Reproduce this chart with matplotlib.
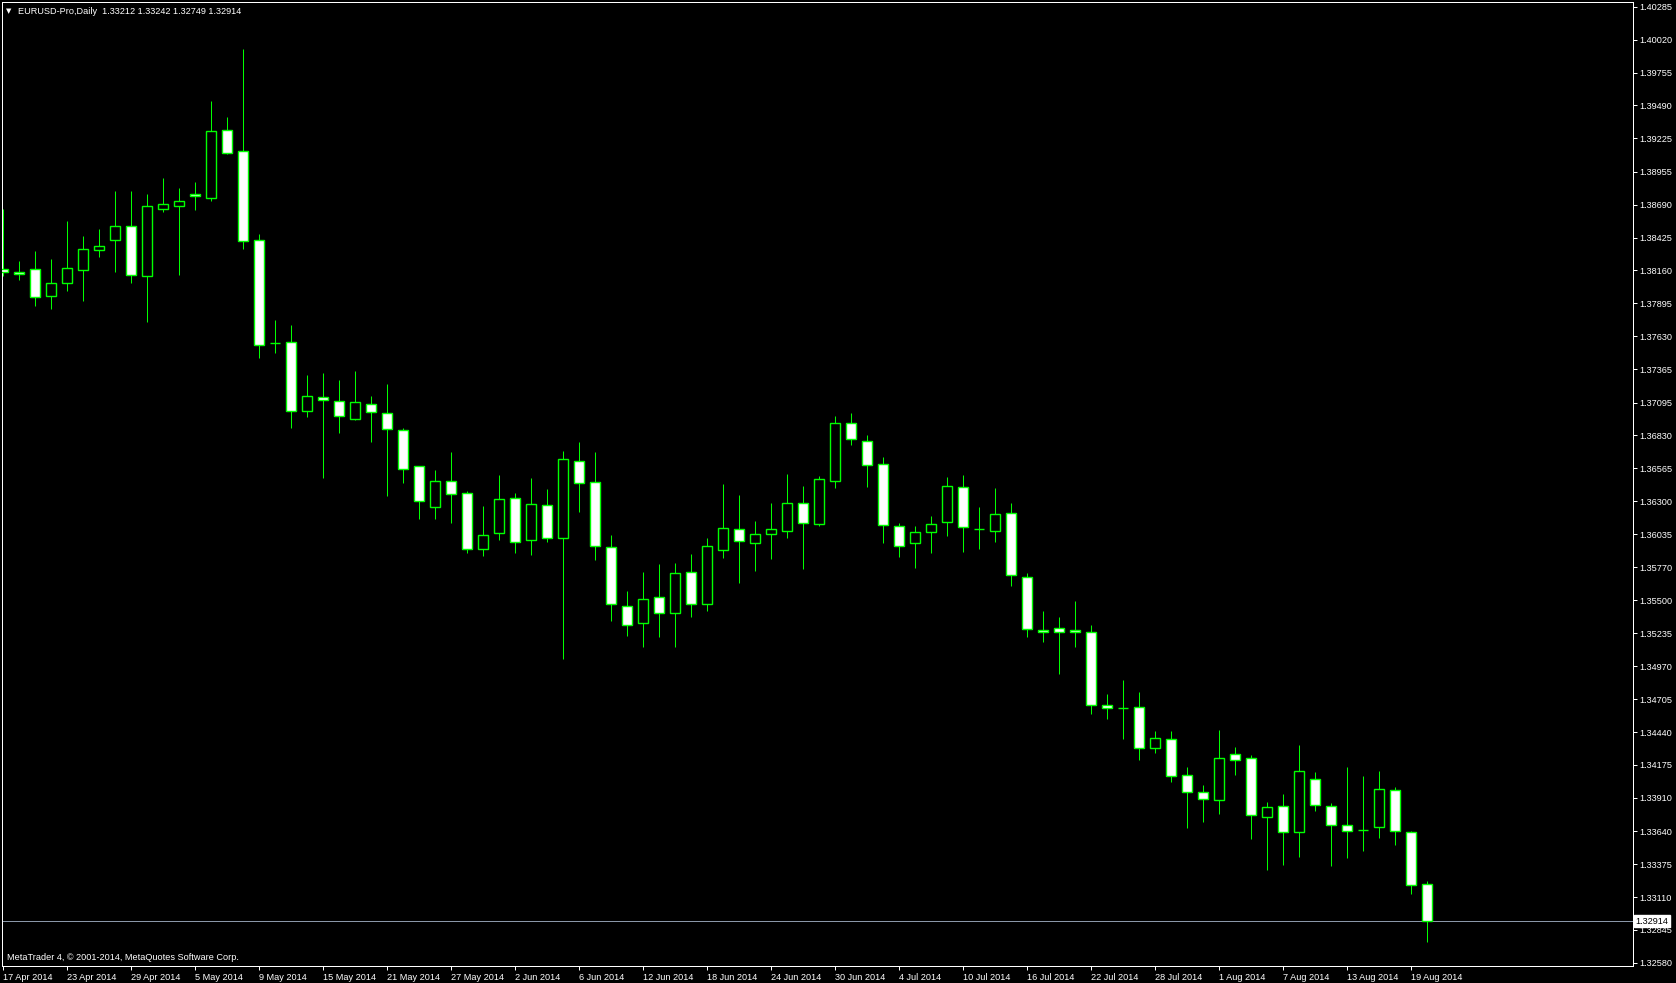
import matplotlib
matplotlib.use("Agg")
import matplotlib.pyplot as plt
from matplotlib.patches import Rectangle

# daily bars, 17 Apr 2014 .. 20 Aug 2014
opens = [1.38169, 1.38145, 1.38169, 1.37952, 1.38057, 1.38161, 1.38323, 1.38408, 1.38516, 1.38118,
         1.38658, 1.38677, 1.38774, 1.38747, 1.39290, 1.39121, 1.38403, 1.37578, 1.37581, 1.37025,
         1.37138, 1.37106, 1.36960, 1.37081, 1.37009, 1.36872, 1.36582, 1.36251, 1.36461, 1.36364,
         1.35913, 1.36042, 1.36324, 1.35985, 1.36267, 1.36001, 1.36622, 1.36453, 1.35929, 1.35453,
         1.35316, 1.35526, 1.35397, 1.35727, 1.35469, 1.35905, 1.36074, 1.35961, 1.36034, 1.36058,
         1.36283, 1.36114, 1.36461, 1.36928, 1.36783, 1.36598, 1.36098, 1.35961, 1.36050, 1.36130,
         1.36412, 1.36079, 1.36058, 1.36203, 1.35687, 1.35260, 1.35276, 1.35260, 1.35244, 1.34655,
         1.34634, 1.34639, 1.34314, 1.34381, 1.34091, 1.33954, 1.33890, 1.34260, 1.34231, 1.33753,
         1.33841, 1.33637, 1.34059, 1.33841, 1.33688, 1.33648, 1.33672, 1.33970, 1.33636, 1.33212]
highs = [1.38656, 1.38236, 1.38317, 1.38252, 1.38559, 1.38438, 1.38494, 1.38801, 1.38801, 1.38776,
         1.38905, 1.38825, 1.38873, 1.39526, 1.39397, 1.39945, 1.38454, 1.37761, 1.37720, 1.37317,
         1.37334, 1.37277, 1.37350, 1.37148, 1.37245, 1.36888, 1.36582, 1.36552, 1.36697, 1.36383,
         1.36262, 1.36512, 1.36366, 1.36487, 1.36399, 1.36705, 1.36777, 1.36697, 1.36028, 1.35577,
         1.35730, 1.35794, 1.35802, 1.35875, 1.36001, 1.36439, 1.36350, 1.36141, 1.36286, 1.36520,
         1.36423, 1.36503, 1.36987, 1.37011, 1.36834, 1.36657, 1.36125, 1.36100, 1.36181, 1.36495,
         1.36509, 1.36254, 1.36407, 1.36286, 1.35722, 1.35415, 1.35367, 1.35496, 1.35300, 1.34744,
         1.34859, 1.34762, 1.34451, 1.34451, 1.34160, 1.34013, 1.34459, 1.34322, 1.34257, 1.33876,
         1.33940, 1.34335, 1.34118, 1.33868, 1.34158, 1.34085, 1.34126, 1.33997, 1.33640, 1.33242]
lows = [1.38118, 1.38086, 1.37876, 1.37852, 1.37997, 1.37916, 1.38271, 1.38150, 1.38061, 1.37747,
        1.38634, 1.38126, 1.38650, 1.38722, 1.39101, 1.38333, 1.37457, 1.37497, 1.36890, 1.36979,
        1.36490, 1.36852, 1.36957, 1.36780, 1.36345, 1.36449, 1.36159, 1.36159, 1.36127, 1.35885,
        1.35861, 1.35990, 1.35885, 1.35869, 1.35969, 1.35031, 1.36216, 1.35829, 1.35337, 1.35216,
        1.35128, 1.35208, 1.35128, 1.35369, 1.35418, 1.35845, 1.35643, 1.35740, 1.35837, 1.36006,
        1.35756, 1.36103, 1.36409, 1.36756, 1.36417, 1.35966, 1.35853, 1.35764, 1.35885, 1.36022,
        1.35893, 1.35918, 1.35974, 1.35619, 1.35208, 1.35168, 1.34910, 1.35128, 1.34588, 1.34547,
        1.34386, 1.34217, 1.34273, 1.34040, 1.33669, 1.33717, 1.33782, 1.34096, 1.33580, 1.33330,
        1.33371, 1.33435, 1.33806, 1.33362, 1.33427, 1.33483, 1.33588, 1.33532, 1.33137, 1.32749]
closes = [1.38145, 1.38129, 1.37944, 1.38057, 1.38178, 1.38331, 1.38355, 1.38516, 1.38126, 1.38677,
          1.38693, 1.38718, 1.38758, 1.39282, 1.39109, 1.38400, 1.37557, 1.37578, 1.37025, 1.37146,
          1.37114, 1.36985, 1.37097, 1.37017, 1.36880, 1.36557, 1.36300, 1.36461, 1.36356, 1.35913,
          1.36025, 1.36316, 1.35969, 1.36275, 1.36001, 1.36638, 1.36445, 1.35937, 1.35469, 1.35300,
          1.35510, 1.35397, 1.35719, 1.35469, 1.35937, 1.36082, 1.35977, 1.36034, 1.36074, 1.36283,
          1.36122, 1.36477, 1.36928, 1.36799, 1.36590, 1.36106, 1.35937, 1.36050, 1.36114, 1.36420,
          1.36090, 1.36079, 1.36195, 1.35703, 1.35268, 1.35244, 1.35244, 1.35244, 1.34655, 1.34631,
          1.34634, 1.34314, 1.34389, 1.34088, 1.33959, 1.33898, 1.34231, 1.34212, 1.33769, 1.33833,
          1.33632, 1.34123, 1.33849, 1.33688, 1.33640, 1.33648, 1.33978, 1.33640, 1.33205, 1.32914]

date_labels = ["17 Apr 2014", "23 Apr 2014", "29 Apr 2014", "5 May 2014", "9 May 2014",
               "15 May 2014", "21 May 2014", "27 May 2014", "2 Jun 2014", "6 Jun 2014",
               "12 Jun 2014", "18 Jun 2014", "24 Jun 2014", "30 Jun 2014", "4 Jul 2014",
               "10 Jul 2014", "16 Jul 2014", "22 Jul 2014", "28 Jul 2014", "1 Aug 2014",
               "7 Aug 2014", "13 Aug 2014", "19 Aug 2014"]
price_ticks = [1.40285, 1.40020, 1.39755, 1.39490, 1.39225, 1.38955, 1.38690, 1.38425, 1.38160,
               1.37895, 1.37630, 1.37365, 1.37095, 1.36830, 1.36565, 1.36300, 1.36035, 1.35770,
               1.35500, 1.35235, 1.34970, 1.34705, 1.34440, 1.34175, 1.33910, 1.33640, 1.33375,
               1.33110, 1.32845, 1.32580]
last_price = 1.32914

W, H = 1676, 983
green = "#00ff00"
px = 0.72  # one pixel in points at dpi 100
font = "Liberation Sans"
fs = 6.6

fig = plt.figure(figsize=(W / 100, H / 100), dpi=100, facecolor="black")
ax = fig.add_axes([2 / W, 17 / H, 1631 / W, 964 / H], facecolor="black")

# candles
bw = 0.6
for i in range(len(opens)):
    o, h, l, c = opens[i], highs[i], lows[i], closes[i]
    ax.vlines(i, l, h, color=green, linewidth=px, zorder=2)
    bull = c > o
    ax.add_patch(Rectangle((i - bw / 2, min(o, c)), bw, abs(c - o),
                           facecolor="black" if bull else "white",
                           edgecolor=green, linewidth=1.4 * px, zorder=3))

ax.axhline(last_price, color="#8a97a8", linewidth=px, zorder=1)

ax.set_xlim(-0.0625, 101.875)
ax.set_ylim(1.32554, 1.40324)

for s in ax.spines.values():
    s.set_color("white")
    s.set_linewidth(px)

ax.yaxis.tick_right()
ax.set_yticks(price_ticks)
ax.set_yticklabels(["%.5f" % p for p in price_ticks])
ax.set_xticks(range(0, len(opens), 4))
ax.set_xticklabels(date_labels, ha="left")
ax.tick_params(axis="both", colors="white", length=4 * px, width=px, labelsize=fs)
ax.tick_params(axis="y", pad=2)
ax.tick_params(axis="x", pad=2)
for lab in ax.get_xticklabels() + ax.get_yticklabels():
    lab.set_fontfamily(font)

ax.annotate("%.5f" % last_price, xy=(1.0, last_price), xycoords=("axes fraction", "data"),
            xytext=(2, 0), textcoords="offset points", va="center", ha="left",
            fontsize=fs, family=font, color="black",
            bbox=dict(boxstyle="square,pad=0.15", facecolor="white", edgecolor="white"),
            annotation_clip=False, zorder=5)

fig.text(6 / W, 1 - 11 / H, "\u25bc", color="white", fontsize=5, va="center", ha="left",
         family="DejaVu Sans")
fig.text(18 / W, 1 - 11 / H, "EURUSD-Pro,Daily  1.33212 1.33242 1.32749 1.32914",
         color="white", fontsize=fs, va="center", ha="left", family=font)
fig.text(7 / W, 1 - 957 / H, "MetaTrader 4, \u00a9 2001-2014, MetaQuotes Software Corp.",
         color="white", fontsize=fs, va="center", ha="left", family=font)

fig.savefig("out.png", dpi=100, facecolor="black")
